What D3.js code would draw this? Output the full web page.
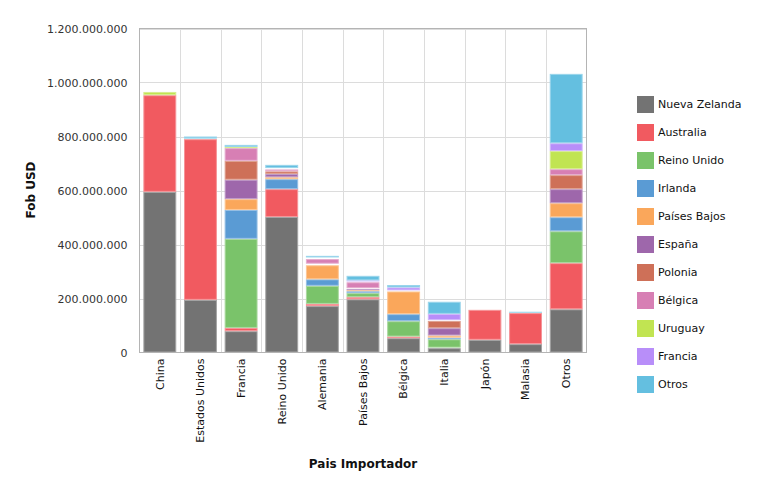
<!DOCTYPE html>
<html><head><meta charset="utf-8">
<script src="https://cdn.jsdelivr.net/npm/d3@7"></script>
<style>body{margin:0;background:#fff;font-family:Verdana,"DejaVu Sans",sans-serif;}</style>
</head><body><svg id="c" width="758" height="480"></svg>
<script>
const categories = ["China","Estados Unidos","Francia","Reino Unido","Alemania","Países Bajos","Bélgica","Italia","Japón","Malasia","Otros"];
const seriesNames = ["Nueva Zelanda","Australia","Reino Unido","Irlanda","Países Bajos","España","Polonia","Bélgica","Uruguay","Francia","Otros"];
const colors = ["#737373","#F15A60","#7AC36A","#5A9BD4","#FAA75B","#9E67AB","#CE7058","#D77FB4","#C1E452","#B88EF9","#64BFE0"];
// values in millions USD, one array per series (ordered like categories)
const nuevaZelanda = [595,195,79,502,172,197,53,16,47,31,160];
const australia    = [358,595,12,103,8,8,6,2,111,115,171];
const reinoUnido   = [0,0,330,0,67,15,57,31,0,0,118];
const irlanda      = [0,2,107,37,24,7,26,6,0,0,52];
const paisesBajos  = [0,0,40,7,52,4,84,8,0,0,52];
const espana       = [0,0,72,12,3,4,1,27,0,0,52];
const polonia      = [0,0,70,10,3,3,1,27,0,0,52];
const belgica      = [0,0,47,7,17,22,1,2,0,0,22];
const uruguay      = [12,0,4,3,3,3,1,1,0,0,67];
const francia      = [0,0,0,2,3,4,11,23,2,1,29];
const otros        = [0,8,8,12,6,17,9,45,3,4,257];
const yTicks = [0,200,400,600,800,1000,1200];

const seriesVals = [nuevaZelanda,australia,reinoUnido,irlanda,paisesBajos,espana,polonia,belgica,uruguay,francia,otros];
const rows = categories.map((c,i)=>{const r={cat:c};seriesNames.forEach((s,j)=>r[s]=seriesVals[j][i]*1e6);return r;});

const svg = d3.select("#c");
const m = {l:139.5,r:586.5,t:28.5,b:352.5};
const x = d3.scaleBand().domain(categories).range([m.l,m.r]).paddingInner(0.19).paddingOuter(0.095);
const y = d3.scaleLinear().domain([0,1.2e9]).range([m.b,m.t]);
const loc = d3.formatLocale({decimal:",",thousands:".",grouping:[3],currency:["$",""]});
const fmt = loc.format(",.0f");

// grid
const step = (m.r-m.l)/categories.length;
svg.append("g").selectAll("line").data(yTicks.slice(1)).join("line")
  .attr("x1",m.l).attr("x2",m.r).attr("y1",d=>Math.round(y(d*1e6))+0.5).attr("y2",d=>Math.round(y(d*1e6))+0.5)
  .attr("stroke","#dcdcdc");
svg.append("g").selectAll("line").data(d3.range(1,categories.length)).join("line")
  .attr("y1",m.t).attr("y2",m.b).attr("x1",d=>Math.round(m.l+d*step)+0.5).attr("x2",d=>Math.round(m.l+d*step)+0.5)
  .attr("stroke","#dcdcdc");

// bars
const stack = d3.stack().keys(seriesNames)(rows);
svg.append("g").selectAll("g").data(stack).join("g")
  .attr("fill",(d,i)=>colors[i]).attr("stroke",(d,i)=>d3.interpolateRgb(colors[i],"#fff")(0.35))
  .selectAll("rect").data(d=>d.filter(p=>p[1]-p[0]>0)).join("rect")
  .attr("x",d=>x(d.data.cat)+0.5).attr("width",x.bandwidth()-1)
  .attr("y",d=>y(d[1])+0.5).attr("height",d=>Math.max(0,y(d[0])-y(d[1])-1))
  .attr("stroke-width",1);

// border
svg.append("rect").attr("x",m.l).attr("y",m.t).attr("width",m.r-m.l).attr("height",m.b-m.t)
  .attr("fill","none").attr("stroke","#b4b4b4");

// y axis
const yAxis = svg.append("g").attr("transform",`translate(${m.l},0)`)
  .call(d3.axisLeft(y).tickValues(yTicks.map(v=>v*1e6)).tickFormat(fmt).tickSize(0).tickPadding(12));
yAxis.select(".domain").remove();
yAxis.selectAll("text").attr("font-family","Verdana,'DejaVu Sans',sans-serif").attr("font-size",11).attr("fill","#333");

// x axis
const xAxis = svg.append("g").attr("transform",`translate(0,${m.b})`)
  .call(d3.axisBottom(x).tickSize(0));
xAxis.select(".domain").remove();
xAxis.selectAll("text").attr("font-family","Verdana,'DejaVu Sans',sans-serif").attr("font-size",11).attr("fill","#111")
  .attr("text-anchor","end").attr("dy","0.35em").attr("dx",0)
  .attr("transform","translate(0,6) rotate(-90)").attr("x",0).attr("y",0);

// titles
svg.append("text").attr("x",(m.l+m.r)/2).attr("y",468).attr("text-anchor","middle")
  .attr("font-family","Verdana,'DejaVu Sans',sans-serif").attr("font-size",12).attr("font-weight","bold").attr("fill","#111").text("Pais Importador");
svg.append("text").attr("transform","translate(35,190) rotate(-90)").attr("text-anchor","middle")
  .attr("font-family","Verdana,'DejaVu Sans',sans-serif").attr("font-size",12).attr("font-weight","bold").attr("fill","#111").text("Fob USD");

// legend
const lg = svg.append("g").selectAll("g").data(seriesNames).join("g")
  .attr("transform",(d,i)=>`translate(637,${96+i*28})`);
lg.append("rect").attr("width",17).attr("height",17).attr("fill",(d,i)=>colors[i]);
lg.append("text").attr("x",21).attr("y",8.5).attr("dy","0.35em")
  .attr("font-family","Verdana,'DejaVu Sans',sans-serif").attr("font-size",11).attr("fill","#111").text(d=>d);
</script></body></html>
